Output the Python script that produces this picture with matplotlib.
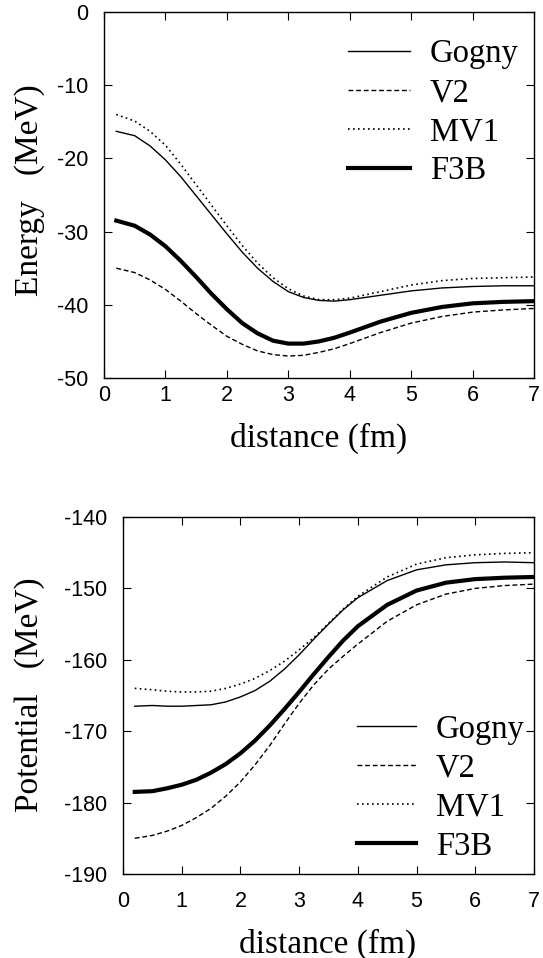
import matplotlib
matplotlib.use("Agg")
import matplotlib.pyplot as plt

plt.rcParams["axes.unicode_minus"] = False

# distance grid (fm)
dist = [0.2, 0.5, 0.75, 1.0, 1.25, 1.5, 1.75, 2.0, 2.25, 2.5, 2.75, 3.0, 3.25, 3.5, 3.75,
        4.0, 4.5, 5.0, 5.5, 6.0, 6.5, 7.0]

# energy (MeV)
e_gogny = [-16.3, -16.9, -18.3, -20.2, -22.5, -25.1, -27.7, -30.3, -32.8, -35.0, -36.8, -38.2,
           -39.0, -39.4, -39.5, -39.3, -38.7, -38.1, -37.7, -37.5, -37.4, -37.4]
e_v2 = [-35.0, -35.6, -36.6, -37.9, -39.5, -41.2, -42.8, -44.3, -45.4, -46.3, -46.8, -47.0,
        -46.9, -46.5, -46.0, -45.3, -43.8, -42.5, -41.6, -41.0, -40.7, -40.5]
e_mv1 = [-14.0, -14.9, -16.3, -18.2, -20.8, -23.6, -26.4, -29.2, -31.9, -34.3, -36.3, -37.8,
         -38.8, -39.3, -39.3, -39.1, -38.2, -37.3, -36.7, -36.4, -36.3, -36.2]
e_f3b = [-28.5, -29.2, -30.4, -32.0, -34.0, -36.2, -38.5, -40.6, -42.5, -43.9, -44.9, -45.3,
         -45.3, -45.0, -44.5, -43.8, -42.3, -41.1, -40.3, -39.8, -39.6, -39.5]

# potential (MeV)
p_gogny = [-166.5, -166.4, -166.5, -166.5, -166.4, -166.3, -165.9, -165.2, -164.3, -163.0, -161.3,
           -159.3, -157.1, -155.0, -153.0, -151.3, -148.9, -147.4, -146.7, -146.4, -146.3, -146.4]
p_v2 = [-185.0, -184.6, -184.0, -183.2, -182.1, -180.8, -179.1, -177.1, -174.7, -172.0, -169.0,
        -166.1, -163.5, -161.3, -159.5, -157.8, -154.6, -152.3, -150.8, -150.0, -149.6, -149.4]
p_mv1 = [-164.0, -164.2, -164.4, -164.5, -164.5, -164.4, -164.0, -163.4, -162.6, -161.5, -160.2,
         -158.6, -156.9, -154.9, -152.9, -151.1, -148.4, -146.6, -145.7, -145.3, -145.1, -145.0]
p_f3b = [-178.5, -178.4, -178.0, -177.5, -176.8, -175.8, -174.6, -173.1, -171.3, -169.2, -166.9,
         -164.5, -162.0, -159.6, -157.3, -155.3, -152.3, -150.3, -149.2, -148.7, -148.5, -148.4]

labels = ["Gogny", "V2", "MV1", "F3B"]
styles = [dict(ls="-", lw=1.0), dict(ls=(0, (3.5, 2.0)), lw=1.0),
          dict(ls=(0, (1.0, 2.0)), lw=1.2), dict(ls="-", lw=3.0)]

W, H = 543, 958
fig = plt.figure(figsize=(W / 100, H / 100), dpi=100)

serif = "Liberation Serif"


def make_axes(l, t, r, b):
    return fig.add_axes([l / W, 1 - b / H, (r - l) / W, (b - t) / H])


def style_axes(ax, ylim, yticks, xpad):
    ax.set_xlim(0, 7)
    ax.set_ylim(*ylim)
    ax.set_xticks(range(8))
    ax.set_yticks(yticks)
    ax.tick_params(direction="in", length=6, width=0.8, top=True, right=True)
    ax.tick_params(axis="y", pad=11.5)
    ax.tick_params(axis="x", pad=xpad)
    for lab in ax.get_xticklabels() + ax.get_yticklabels():
        lab.set_fontfamily("Liberation Sans")
        lab.set_fontsize(15.5)
    for s in ax.spines.values():
        s.set_linewidth(1.0)


# top panel
ax1 = make_axes(104, 12, 534, 378)
for y, lab, st in zip([e_gogny, e_v2, e_mv1, e_f3b], labels, styles):
    ax1.plot(dist, y, color="black", label=lab, **st)
style_axes(ax1, (-50, 0), [0, -10, -20, -30, -40, -50], 5)
ax1.legend(loc="upper right", bbox_to_anchor=(1.01, 0.98), frameon=False,
           prop=dict(family=serif, size=23.5), handlelength=1.9,
           handletextpad=0.6, labelspacing=0.26, borderaxespad=0.2)
fig.text(30 / W, 1 - 190 / H, "Energy   (MeV)", rotation=90, ha="center", va="center",
         family=serif, size=24)
fig.text(319 / W, 1 - 438 / H, "distance (fm)", ha="center", va="center",
         family=serif, size=24)

# bottom panel
ax2 = make_axes(123, 517, 534, 874)
for y, lab, st in zip([p_gogny, p_v2, p_mv1, p_f3b], labels, styles):
    ax2.plot(dist, y, color="black", label=lab, **st)
style_axes(ax2, (-190, -140), [-140, -150, -160, -170, -180, -190], 12)
ax2.legend(loc="lower right", bbox_to_anchor=(1.025, -0.02), frameon=False,
           prop=dict(family=serif, size=23.5), handlelength=1.8,
           handletextpad=0.6, labelspacing=0.26, borderaxespad=0.2)
fig.text(30 / W, 1 - 695 / H, "Potential   (MeV)", rotation=90, ha="center", va="center",
         family=serif, size=24)
fig.text(328 / W, 1 - 944 / H, "distance (fm)", ha="center", va="center",
         family=serif, size=24)

fig.savefig("out.png", dpi=100)
